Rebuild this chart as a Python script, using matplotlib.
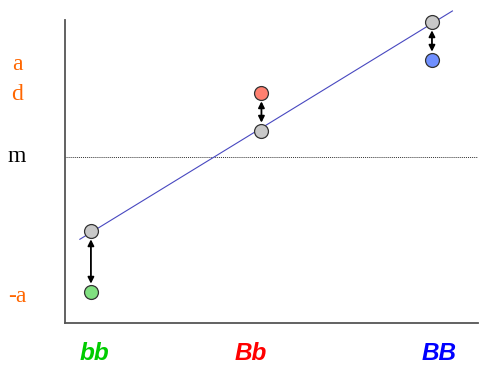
import numpy as np
import matplotlib.pyplot as plt
import matplotlib.transforms as mtransforms

genotypes = ["bb", "Bb", "BB"]
geno_x = [0, 1, 2]
geno_colors = ["#00cc00", "#ff0000", "#0000ff"]
predicted = [-74, 26, 135]          # additive (gray) values
observed = [-135, 64, 97]           # observed genotype values
obs_colors = ["#80e080", "#ff8070", "#7090ff"]
line_x = [-0.065, 2.12]
label_x = [0.02, 0.94, 2.04]

ylabels = ["a", "d", "m", "-a"]
ylabel_vals = [92, 62, 0, -139]
ylabel_colors = ["#ff6600", "#ff6600", "black", "#ff6600"]

fig = plt.figure(figsize=(4.81, 3.65), dpi=100)
ax = fig.add_axes([65/481, 42/365, 413/481, 303/365])
ax.set_xlim(-0.152, 2.27)
ax.set_ylim(-166, 137)

# regression line through additive values
slope, icpt = np.polyfit(geno_x, predicted, 1)
lx = np.array(line_x)
ax.plot(lx, slope*lx + icpt, color="#4848c0", lw=0.8, clip_on=False, zorder=2)

# mean line
ax.axhline(0, color="#333333", lw=0.7, ls=(0, (1, 1)), zorder=1)

for i in range(3):
    ax.annotate("", xy=(geno_x[i], observed[i]), xytext=(geno_x[i], predicted[i]),
                arrowprops=dict(arrowstyle="<|-|>", color="black", lw=1.3,
                                shrinkA=6, shrinkB=6, mutation_scale=9))
    ax.plot(geno_x[i], predicted[i], "o", ms=10, mfc="#c8c8c8", mec="#333333",
            mew=0.9, clip_on=False, zorder=4)
    ax.plot(geno_x[i], observed[i], "o", ms=10, mfc=obs_colors[i], mec="#333333",
            mew=0.9, clip_on=False, zorder=4)

for name, xx, c in zip(genotypes, label_x, geno_colors):
    ax.text(xx, -0.102, name, transform=ax.get_xaxis_transform(), ha="center",
            va="center", color=c, fontsize=17.5, fontweight="bold", fontstyle="italic",
            family="Liberation Sans")

trans = mtransforms.blended_transform_factory(fig.transFigure, ax.transData)
for name, v, c in zip(ylabels, ylabel_vals, ylabel_colors):
    ax.text(17/481, v, name, transform=trans, ha="center", va="center",
            color=c, fontsize=17, family="Liberation Serif", clip_on=False)

ax.set_xticks([])
ax.set_yticks([])
for s in ["top", "right"]:
    ax.spines[s].set_visible(False)
for s in ["left", "bottom"]:
    ax.spines[s].set_color("#555555")
    ax.spines[s].set_linewidth(1.3)

fig.savefig("out.png", dpi=100)
